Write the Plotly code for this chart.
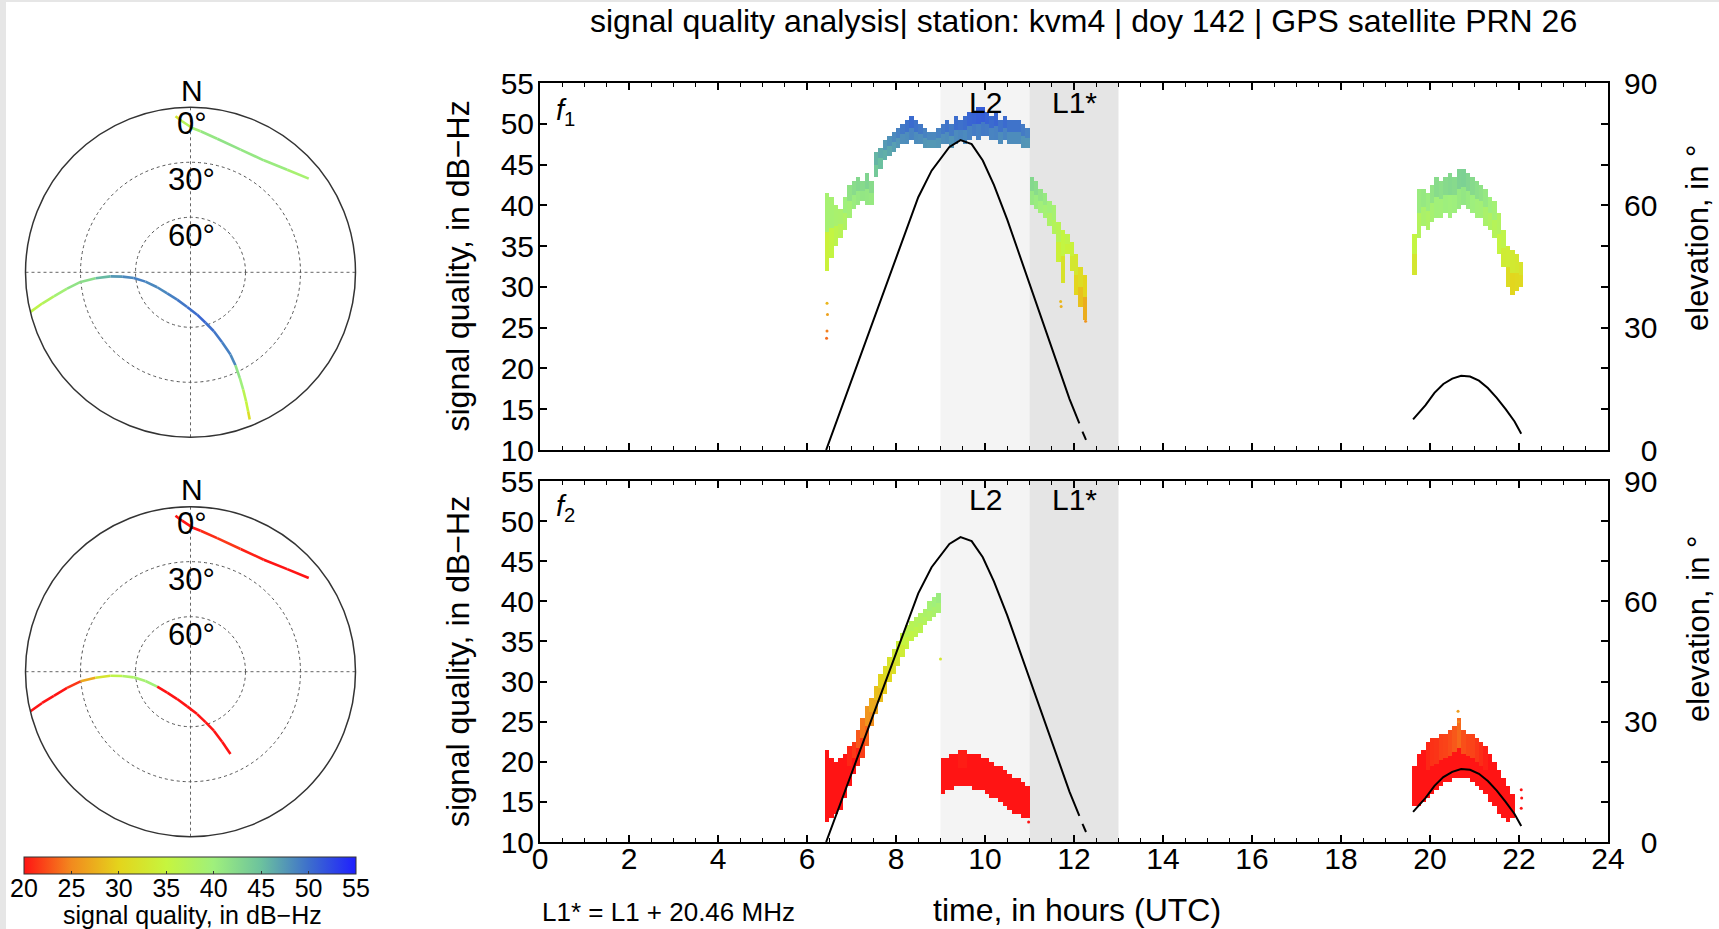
import numpy as np
import plotly.graph_objects as go
from plotly.colors import sample_colorscale

W, H = 1719, 929
FONT = "Liberation Sans, Arial, sans-serif"

# ---------------- data ----------------
title_text = "signal quality analysis| station: kvm4 | doy 142 | GPS satellite PRN 26"

band_start = [9, 11]
band_end = [11, 13]
band_label = ["L2", "L1*"]
band_center = [10, 12]

x_ticks = list(range(0, 25, 2))
sq_ticks = list(range(10, 56, 5))
el_label_vals = [0, 30, 60, 90]
el_ticklabels = ["\u20070", "30", "60", "90"]
cb_ticks = list(range(20, 56, 5))

# f1 signal quality envelope (time in h, lower / upper dB-Hz)
f1_t = [6.45, 6.55, 6.65, 6.75, 6.85, 6.95, 7.05, 7.15, 7.25, 7.35, 7.45, 7.55, 7.65, 7.75, 7.85,
        7.95, 8.05, 8.15, 8.25, 8.35, 8.45, 8.55, 8.65, 8.75, 8.85, 8.95, 9.05, 9.15, 9.25, 9.35,
        9.45, 9.55, 9.65, 9.75, 9.85, 9.95, 10.05, 10.15, 10.25, 10.35, 10.45, 10.55, 10.65, 10.75,
        10.85, 10.95,
        11.05, 11.15, 11.25, 11.35, 11.45, 11.55, 11.65, 11.75, 11.85, 11.95, 12.05, 12.15, 12.25,
        19.65, 19.75, 19.85, 19.95, 20.05, 20.15, 20.25, 20.35, 20.45, 20.55, 20.65, 20.75, 20.85,
        20.95, 21.05, 21.15, 21.25, 21.35, 21.45, 21.55, 21.65, 21.75, 21.85, 21.95, 22.05]
f1_lo = [32.0, 33.5, 35.0, 36.0, 37.0, 38.5, 39.5, 40.0, 40.5, 40.0, 40.0, 43.5, 44.5, 45.5, 46.0,
         46.5, 47.0, 47.5, 47.5, 48.0, 47.5, 47.5, 47.0, 47.0, 47.0, 47.0, 47.5, 47.5, 47.0, 47.5,
         48.0, 47.5, 48.0, 48.5, 48.0, 48.5, 48.5, 48.0, 48.0, 47.5, 48.0, 47.5, 47.5, 47.5,
         47.0, 47.0,
         40.0, 39.5, 39.0, 38.5, 37.5, 36.5, 33.0, 30.5, 34.0, 32.0, 29.0, 27.5, 26.0,
         31.5, 36.0, 37.5, 37.0, 38.0, 38.5, 38.5, 39.0, 38.5, 39.0, 39.5, 40.0, 39.5,
         39.0, 38.5, 38.5, 37.5, 37.0, 36.0, 34.0, 32.5, 30.0, 29.0, 29.5, 30.0]
f1_hi = [41.5, 41.0, 40.0, 39.5, 41.0, 42.5, 43.0, 43.5, 43.0, 44.0, 43.0, 46.5, 47.0, 48.0, 48.5,
         49.0, 49.5, 50.0, 50.5, 51.0, 50.5, 50.0, 49.5, 49.0, 49.0, 49.5, 50.0, 50.5, 50.0, 51.0,
         50.5, 51.0, 51.5, 51.5, 52.0, 52.0, 51.5, 51.0, 51.5, 50.5, 51.0, 50.5, 50.5, 50.5,
         50.0, 49.5,
         43.5, 43.0, 42.0, 41.5, 40.5, 40.0, 38.0, 37.0, 36.5, 35.5, 34.0, 32.5, 31.5,
         36.5, 42.0, 42.0, 41.5, 42.5, 43.5, 43.0, 43.5, 44.0, 43.5, 44.5, 44.5, 44.0,
         43.5, 43.0, 42.5, 42.0, 41.0, 40.5, 39.0, 37.0, 35.0, 34.5, 34.0, 33.0]
f1_out_t = [6.45, 6.46, 6.45, 6.44, 11.70, 11.71, 12.26]
f1_out_q = [28.0, 26.6, 24.6, 23.7, 28.2, 27.6, 25.8]

# f2 signal quality envelope
f2_t = [6.45, 6.55, 6.65, 6.75, 6.85, 6.95, 7.05, 7.15, 7.25, 7.35, 7.45, 7.55, 7.65, 7.75, 7.85,
        7.95, 8.05, 8.15, 8.25, 8.35, 8.45, 8.55, 8.65, 8.75, 8.85, 8.95,
        9.05, 9.15, 9.25, 9.35, 9.45, 9.55, 9.65, 9.75, 9.85, 9.95, 10.05, 10.15, 10.25, 10.35,
        10.45, 10.55, 10.65, 10.75, 10.85, 10.95,
        19.65, 19.75, 19.85, 19.95, 20.05, 20.15, 20.25, 20.35, 20.45, 20.55, 20.65, 20.75, 20.85,
        20.95, 21.05, 21.15, 21.25, 21.35, 21.45, 21.55, 21.65, 21.75, 21.85]
f2_lo = [12.5, 13.0, 13.5, 14.0, 15.5, 17.0, 18.5, 19.5, 20.5, 22.0, 24.5, 26.0, 27.5, 28.5, 30.0,
         31.0, 32.0, 33.0, 34.0, 35.0, 35.5, 36.0, 37.0, 37.5, 38.0, 38.5,
         16.0, 16.5, 16.5, 17.0, 17.0, 17.0, 17.0, 16.5, 16.5, 16.5, 16.0, 15.5, 15.5, 15.0,
         14.5, 14.0, 13.5, 13.5, 13.0, 13.0,
         14.5, 14.5, 15.0, 15.5, 16.0, 16.5, 17.0, 17.5, 17.5, 18.0, 18.0, 18.0, 18.0,
         17.5, 17.0, 16.5, 16.0, 15.0, 14.5, 13.5, 13.0, 12.5, 13.0]
f2_hi = [21.5, 20.5, 20.0, 20.5, 21.0, 22.0, 22.5, 24.0, 25.5, 27.0, 28.0, 29.5, 31.0, 32.0, 33.0,
         34.0, 35.0, 36.0, 37.0, 37.5, 38.0, 38.5, 39.0, 40.0, 40.5, 41.0,
         20.5, 20.5, 21.0, 21.0, 21.5, 21.5, 21.0, 21.0, 21.0, 20.5, 20.5, 20.0, 19.5, 19.5,
         19.0, 18.5, 18.0, 18.0, 17.5, 17.0,
         19.5, 21.0, 21.5, 22.5, 23.0, 23.0, 23.5, 23.5, 24.0, 24.5, 25.5, 24.0, 23.5,
         23.5, 23.0, 22.5, 22.0, 21.0, 20.0, 19.0, 18.0, 17.0, 16.0]
f2_out_t = [9.00, 10.98, 20.63, 20.64, 22.05, 22.06, 22.05]
f2_out_q = [32.8, 12.5, 26.3, 25.0, 14.2, 15.5, 16.5]

# satellite elevation (deg) vs time (h)
elev_t = [6.43, 7.0, 7.5, 8.0, 8.5, 8.8, 9.0, 9.2, 9.45, 9.7, 9.95, 10.2, 10.5, 10.8, 11.0, 11.3,
          11.6, 11.9, 12.12, None, 12.19, 12.27, None,
          19.62, 19.9, 20.1, 20.3, 20.5, 20.7, 20.9, 21.1, 21.3, 21.5, 21.7, 21.9, 22.05]
elev_v = [0.0, 17.0, 32.0, 47.0, 62.0, 68.5, 71.5, 74.3, 76.0, 75.0, 71.0, 65.0, 56.5, 47.0, 41.0,
          31.5, 22.0, 12.5, 6.5, None, 4.5, 2.5, None,
          7.5, 11.0, 14.0, 16.2, 17.5, 18.2, 18.0, 17.0, 15.2, 12.8, 10.0, 7.0, 4.0]

# sky plot tracks: azimuth / elevation (deg) and signal quality per point
trk1_az = [256.1, 258.1, 260.0, 262.5, 265.0, 266.4, 267.1, 266.4, 264.3, 258.3, 245.8, 228.0, 206.0,
           185.5, 171.1, 163.4, 158.4, 155.7, 154.1, 154.2, 155.0, 155.8, 156.7, 157.5, 158.1]
trk1_el = [0.1, 7.3, 14.3, 22.1, 29.8, 38.1, 46.3, 52.7, 58.9, 64.9, 70.1, 72.9, 73.4,
           71.0, 66.6, 61.3, 55.4, 48.1, 40.1, 33.7, 26.4, 19.9, 13.4, 7.9, 3.4]
trk1_q_f1 = [36.0, 37.5, 39.5, 41.5, 42.0, 45.5, 47.5, 48.5, 49.0, 48.5, 48.5, 49.0, 49.5,
             50.0, 50.5, 50.0, 49.5, 49.0, 48.5, 41.5, 40.0, 36.5, 35.0, 31.5, 28.5]
trk1_q_f2 = [17.0, 17.5, 18.5, 21.5, 27.0, 32.5, 36.0, 38.0, 39.0, 39.5, 19.0, 19.0, 19.5,
             19.5, 19.0, 18.0, 17.0, 16.0, 15.0]
trk2_az = [51.6, 43.3, 33.2, 22.2, 11.3, 4.1, 0.7, 356.8, 354.5]
trk2_el = [7.7, 13.1, 17.0, 17.7, 15.7, 12.9, 11.3, 7.5, 4.5]
trk2_q_f1 = [39.0, 40.5, 41.0, 41.5, 41.0, 39.5, 37.0, 33.0, 30.0]
trk2_q_f2 = [17.0, 19.0, 20.5, 21.5, 21.0, 19.0, 17.0, 15.0, 14.0]

sky_ring_labels = ["0°", "30°", "60°"]

# ---------------- style ----------------
CMIN, CMAX = 20, 55
cscale = [[0.0, "#ff1414"], [0.143, "#f28a1e"], [0.286, "#e4d41c"], [0.429, "#c6f53e"],
          [0.571, "#9ff07c"], [0.714, "#6cc29e"], [0.857, "#3d6fcc"], [1.0, "#1f1fff"]]


def qcolor(v):
    f = (min(max(v, CMIN), CMAX) - CMIN) / (CMAX - CMIN)
    return sample_colorscale(cscale, [f])[0]


def px(x):
    return x / W


def py(y):
    return 1 - y / H


fig = go.Figure()


def add_band_bars(t, lo, hi, xa, ya):
    t = np.array(t); lo = np.array(lo); hi = np.array(hi)
    mid = (lo + hi) / 2
    xs = np.concatenate([t, t])
    base = np.concatenate([lo, mid])
    hgt = np.concatenate([mid - lo, hi - mid])
    col = np.concatenate([(lo + mid) / 2, (mid + hi) / 2])
    fig.add_trace(go.Bar(x=xs, y=hgt, base=base, width=0.1, xaxis=xa, yaxis=ya,
                         marker=dict(color=col, coloraxis="coloraxis", line=dict(width=0)),
                         showlegend=False, hoverinfo="skip"))


add_band_bars(f1_t, f1_lo, f1_hi, "x", "y")
add_band_bars(f2_t, f2_lo, f2_hi, "x2", "y3")
fig.add_trace(go.Scatter(x=f1_out_t, y=f1_out_q, mode="markers", xaxis="x", yaxis="y",
                         marker=dict(size=3, color=f1_out_q, coloraxis="coloraxis"), showlegend=False))
fig.add_trace(go.Scatter(x=f2_out_t, y=f2_out_q, mode="markers", xaxis="x2", yaxis="y3",
                         marker=dict(size=3, color=f2_out_q, coloraxis="coloraxis"), showlegend=False))

for xa, ya in [("x", "y2"), ("x2", "y4")]:
    fig.add_trace(go.Scatter(x=elev_t, y=elev_v, mode="lines", xaxis=xa, yaxis=ya,
                             line=dict(color="black", width=2), connectgaps=False, showlegend=False))


def add_track(az, el, q, sub):
    n = min(len(az), len(q))
    for i in range(n - 1):
        fig.add_trace(go.Scatterpolar(r=[90 - el[i], 90 - el[i + 1]], theta=[az[i], az[i + 1]],
                                      mode="lines", subplot=sub,
                                      line=dict(color=qcolor(q[i]), width=2.6),
                                      showlegend=False, hoverinfo="skip"))


add_track(trk1_az, trk1_el, trk1_q_f1, "polar")
add_track(trk2_az, trk2_el, trk2_q_f1, "polar")
add_track(trk1_az[:len(trk1_q_f2)], trk1_el[:len(trk1_q_f2)], trk1_q_f2, "polar2")
add_track(trk2_az, trk2_el, trk2_q_f2, "polar2")

# invisible axis carrying the colour-bar tick labels
fig.add_trace(go.Scatter(x=[CMIN, CMAX], y=[0, 0], mode="markers", xaxis="x3", yaxis="y5",
                         marker=dict(size=1, opacity=0), showlegend=False, hoverinfo="skip"))

# ---------------- layout ----------------
xdom = [px(540), px(1608)]
tickfont = dict(family=FONT, size=30, color="black")
xcommon = dict(range=[0, 24], domain=xdom, showline=True, linecolor="black", linewidth=2,
               mirror="ticks", ticks="inside", ticklen=7, tickwidth=1.5, tickcolor="black",
               tickvals=x_ticks, showgrid=False, zeroline=False, tickfont=tickfont,
               automargin=False,
               minor=dict(ticks="inside", ticklen=4, tickwidth=1.2, tickcolor="black",
                          dtick=0.5, showgrid=False))
ycommon = dict(range=[10, 55], showline=True, linecolor="black", linewidth=2, ticks="inside",
               ticklen=7, tickwidth=1.5, tickcolor="black", tickvals=sq_ticks, showgrid=False,
               zeroline=False, tickfont=tickfont, ticklabelstandoff=-2, automargin=False)
yrcommon = dict(range=[0, 90], side="right", showline=True, linecolor="black", linewidth=2,
                ticks="inside", ticklen=7, tickwidth=1.5, tickcolor="black",
                tickvals=el_label_vals, ticktext=el_ticklabels, showgrid=False, zeroline=False,
                tickfont=tickfont, ticklabelstandoff=8, automargin=False,
                minor=dict(ticks="inside", ticklen=7, tickwidth=1.5, tickcolor="black",
                           dtick=10, showgrid=False))

top_dom = [py(450), py(83)]
bot_dom = [py(842), py(481)]

polar_common = dict(
    bgcolor="white",
    angularaxis=dict(rotation=90, direction="clockwise", showline=True, linecolor="#333",
                     linewidth=1.5, tickvals=[0, 90, 180, 270], showticklabels=False, ticks="",
                     showgrid=True, gridcolor="#666", griddash="dot", gridwidth=1.2),
    radialaxis=dict(range=[0, 90], tickvals=[30, 60], showticklabels=False, ticks="",
                    showline=False, showgrid=True, gridcolor="#555", griddash="dot", gridwidth=1.3),
)
sky_top_c = 272.3
sky_bot_c = 671.7
R = 165

shapes = []
for xr, yr in [("x", "y domain"), ("x2", "y3 domain")]:
    for s, e, fc in zip(band_start, band_end, ["#f4f4f4", "#e5e5e5"]):
        shapes.append(dict(type="rect", xref=xr, yref=yr, x0=s, x1=e, y0=0, y1=1,
                           fillcolor=fc, line=dict(width=0), layer="below"))
shapes.append(dict(type="rect", xref="paper", yref="paper", x0=0, x1=px(6), y0=0, y1=1,
                   fillcolor="#e6e6e6", line=dict(width=0), layer="below"))
shapes.append(dict(type="rect", xref="paper", yref="paper", x0=0, x1=1, y0=py(2), y1=1,
                   fillcolor="#e6e6e6", line=dict(width=0), layer="below"))

ann = []


def A(text, x, y, size, **kw):
    d = dict(text=text, x=x, y=y, xref="paper", yref="paper", showarrow=False,
             font=dict(family=FONT, size=size, color="black"), xanchor="center", yanchor="middle")
    d.update(kw)
    ann.append(d)


A(title_text, px(1083), py(21), 32)
for xr, yr in [("x", "y domain"), ("x2", "y3 domain")]:
    for lab, c in zip(band_label, band_center):
        A(lab, c, 0.948, 30, xref=xr, yref=yr)
A("<i>f</i><sub>1</sub>", px(554), py(112), 29, xanchor="left")
A("<i>f</i><sub>2</sub>", px(554), py(508), 29, xanchor="left")
A("signal quality, in dB\u2212Hz", px(458), py(266.5), 32, textangle=-90)
A("signal quality, in dB\u2212Hz", px(458), py(662), 32, textangle=-90)
A("elevation, in °", px(1698), py(238), 31, textangle=-90)
A("elevation, in °", px(1698), py(629), 31, textangle=-90)
A("time, in hours (UTC)", px(1077), py(910), 32)
A("L1* = L1 + 20.46 MHz", px(540), py(912), 26, xanchor="left")
A("signal quality, in dB\u2212Hz", px(192), py(915), 25)
for c in [sky_top_c, sky_bot_c]:
    A("N", px(191.7), py(c - 182), 30)
    for lab, off in zip(sky_ring_labels, [148.3, 92.3, 37.3]):
        A(lab, px(191.7), py(c - off), 31)

fig.update_layout(
    width=W, height=H, margin=dict(l=0, r=0, t=0, b=0, pad=0, autoexpand=False),
    paper_bgcolor="white", plot_bgcolor="white", barmode="overlay", bargap=0,
    font=dict(family=FONT, color="black"),
    xaxis=dict(xcommon, anchor="y", showticklabels=False),
    yaxis=dict(ycommon, domain=top_dom, anchor="x"),
    yaxis2=dict(yrcommon, overlaying="y", anchor="x"),
    xaxis2=dict(xcommon, anchor="y3", ticklabelstandoff=-11),
    yaxis3=dict(ycommon, domain=bot_dom, anchor="x2"),
    yaxis4=dict(yrcommon, overlaying="y3", anchor="x2"),
    xaxis3=dict(domain=[px(24), px(356)], range=[CMIN, CMAX], anchor="y5", tickvals=cb_ticks,
                ticks="", showline=False, showgrid=False, zeroline=False, automargin=False,
                tickfont=dict(family=FONT, size=25, color="black"), ticklabelstandoff=-3),
    yaxis5=dict(domain=[py(874), py(857)], range=[0, 1], visible=False, automargin=False),
    polar=dict(polar_common, domain=dict(x=[px(190.5 - R), px(190.5 + R)],
                                         y=[py(sky_top_c + R), py(sky_top_c - R)])),
    polar2=dict(polar_common, domain=dict(x=[px(190.5 - R), px(190.5 + R)],
                                          y=[py(sky_bot_c + R), py(sky_bot_c - R)])),
    coloraxis=dict(colorscale=cscale, cmin=CMIN, cmax=CMAX,
                   colorbar=dict(orientation="h", x=px(190), xanchor="center", y=py(857),
                                 yanchor="top", len=332, lenmode="pixels", thickness=17,
                                 thicknessmode="pixels", outlinewidth=1, outlinecolor="#333",
                                 tickvals=cb_ticks, ticks="inside", ticklen=3, tickcolor="#333",
                                 showticklabels=False, xpad=0, ypad=0)),
    shapes=shapes, annotations=ann, showlegend=False,
)

fig.write_html("out.html")
